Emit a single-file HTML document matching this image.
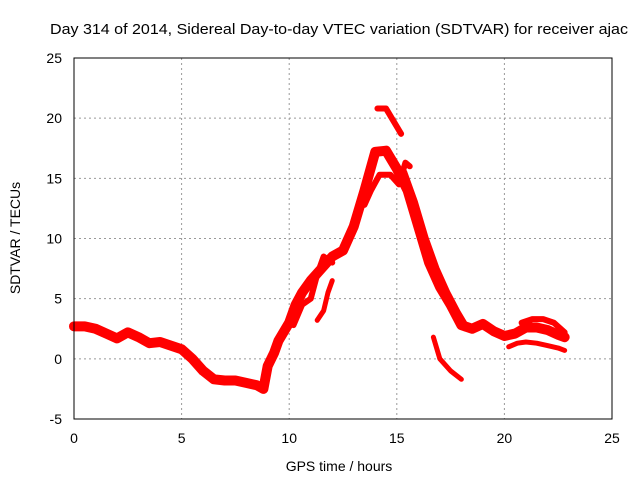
<!DOCTYPE html>
<html><head><meta charset="utf-8"><style>
body{margin:0;background:#fff;}
svg text{font-family:"Liberation Sans",sans-serif;font-size:14px;fill:#000;}
</style></head><body>
<svg id="chart" width="640" height="480">
<text x="339" y="34" text-anchor="middle" textLength="578" lengthAdjust="spacingAndGlyphs" style="font-size:15px">Day 314 of 2014, Sidereal Day-to-day VTEC variation (SDTVAR) for receiver ajac</text>
<text x="339" y="471" text-anchor="middle">GPS time / hours</text>
<text x="20" y="238" text-anchor="middle" transform="rotate(-90 20 238)">SDTVAR / TECUs</text>
<g id="grid"></g><g id="series"></g>
<rect x="74" y="58" width="538" height="361" fill="none" stroke="#000" stroke-width="1"/>
</svg>
<script>
const xTicks=[0,5,10,15,20,25];
const yTicks=[-5,0,5,10,15,20,25];
const mainX=[0,0.5,1,1.5,2,2.5,3,3.5,4,4.5,5,5.5,6,6.5,7,7.5,8,8.5,8.8,9,9.3,9.5,10,10.3,10.6,11,11.5,12,12.5,13,13.5,14,14.5,15,15.5,16,16.5,17,17.5,18,18.5,19,19.5,20,20.5,21,21.5,22,22.5,22.8];
const mainY=[2.7,2.7,2.5,2.1,1.7,2.2,1.8,1.3,1.4,1.1,0.8,0,-1,-1.7,-1.8,-1.8,-2,-2.2,-2.5,-0.6,0.5,1.5,3,4.5,5.5,6.5,7.5,8.5,9,11,14,17.2,17.3,15.8,14,11,8,6,4.5,2.8,2.5,2.9,2.3,1.9,2.1,2.6,2.6,2.4,2,1.8];
const upperX=[14.1,14.5,15.2];
const upperY=[20.8,20.8,18.7];
const dropX=[16.7,17,17.5,18];
const dropY=[1.8,0,-1,-1.7];
const branchX=[10.2,10.6,11,11.3,11.6,12];
const branchY=[2.8,4.5,5,7,8.5,8];
const branch2X=[11.3,11.6,11.8,12];
const branch2Y=[3.2,4,5.5,6.5];
const peak2X=[13.5,13.8,14.2,14.7,15.1,15.4,15.6];
const peak2Y=[12.8,14,15.3,15.3,14.5,16.3,16];
const descX=[15.3,15.8,16.3,16.8,17.3,17.8,18.2];
const descY=[15.5,13,10,7.5,5.5,3.8,2.6];
const tailLowX=[20.2,20.6,21,21.5,22,22.5,22.8];
const tailLowY=[1,1.3,1.4,1.3,1.1,0.9,0.7];
const tailHighX=[20.8,21.3,21.8,22.3,22.8];
const tailHighY=[3,3.3,3.3,3,2.2];
const X=v=>74+v*538/25, Y=v=>419-(v+5)*361/30;
const ns="http://www.w3.org/2000/svg";
const g=document.getElementById('grid'), s=document.getElementById('series');
xTicks.forEach(t=>{
  if(t>0&&t<25){const l=document.createElementNS(ns,'line');
  
  
  l.setAttribute('x1',X(t));l.setAttribute('x2',X(t));l.setAttribute('y1',58);l.setAttribute('y2',419);
  l.setAttribute('stroke','#999');l.setAttribute('stroke-dasharray','2,3');g.appendChild(l);}
  const tx=document.createElementNS(ns,'text');
  
  
  tx.setAttribute('x',X(t));tx.setAttribute('y',443);tx.setAttribute('text-anchor','middle');tx.textContent=t;g.appendChild(tx);
});
yTicks.forEach(t=>{
  if(t>-5&&t<25){const l=document.createElementNS(ns,'line');
  
  
  l.setAttribute('x1',74);l.setAttribute('x2',612);l.setAttribute('y1',Y(t));l.setAttribute('y2',Y(t));
  l.setAttribute('stroke','#999');l.setAttribute('stroke-dasharray','2,3');g.appendChild(l);}
  const tx=document.createElementNS(ns,'text');
  
  
  tx.setAttribute('x',62);tx.setAttribute('y',Y(t)+5);tx.setAttribute('text-anchor','end');tx.textContent=t;g.appendChild(tx);
});
function draw(xs,ys,w,name){
  const p=document.createElementNS(ns,'polyline');
  
  
  p.setAttribute('points',xs.map((x,i)=>X(x)+','+Y(ys[i])).join(' '));
  p.setAttribute('fill','none');p.setAttribute('stroke','#f00');p.setAttribute('stroke-width',w);
  p.setAttribute('stroke-linejoin','round');p.setAttribute('stroke-linecap','round');s.appendChild(p);
}
draw(mainX,mainY,10,'sdtvar-main-band');
draw(descX,descY,8,'sdtvar-descent-band');
draw(upperX,upperY,6,'sdtvar-upper-segment');
draw(dropX,dropY,5,'sdtvar-drop-segment');
draw(branchX,branchY,6,'sdtvar-branch');
draw(branch2X,branch2Y,5,'sdtvar-branch-2');
draw(peak2X,peak2Y,6,'sdtvar-peak-branch');
draw(tailLowX,tailLowY,5,'sdtvar-tail-low');
draw(tailHighX,tailHighY,6,'sdtvar-tail-high');
</script>
</body></html>
